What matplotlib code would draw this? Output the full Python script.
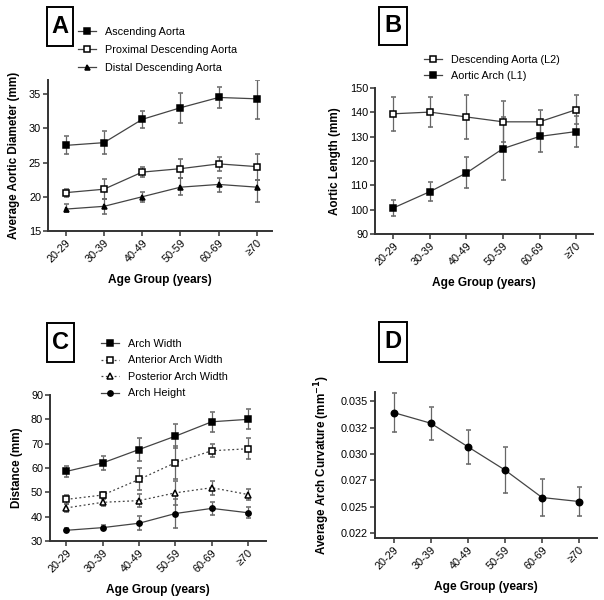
import matplotlib
matplotlib.use("Agg")
import matplotlib.pyplot as plt
from matplotlib.patches import Rectangle

plt.rcParams['font.family'] = ['Liberation Sans', 'DejaVu Sans']

ages = ['20-29', '30-39', '40-49', '50-59', '60-69', '≥70']

# panel A - aortic diameter (mm)
asc = [27.5, 27.9, 31.3, 33.0, 34.5, 34.3]
asc_lo = [1.2, 1.7, 1.2, 2.2, 1.6, 3.0]
asc_hi = [1.3, 1.7, 1.2, 2.2, 1.6, 2.7]
prox = [20.6, 21.1, 23.6, 24.1, 24.8, 24.4]
prox_lo = [0.7, 1.5, 0.7, 1.4, 1.0, 2.0]
prox_hi = [0.6, 1.5, 0.8, 1.4, 1.0, 1.9]
dist = [18.2, 18.6, 20.0, 21.4, 21.8, 21.4]
dist_lo = [0.4, 1.1, 0.8, 1.2, 1.1, 2.2]
dist_hi = [0.7, 1.1, 0.7, 1.4, 1.0, 1.0]

# panel B - aortic length (mm)
desc_len = [139.4, 140.1, 138.1, 136.1, 136.1, 141.1]
desc_err = [7.0, 6.1, 9.0, 8.4, 5.0, 6.0]
arch_len = [100.7, 107.4, 115.1, 125.1, 130.1, 132.1]
arch_err = [3.4, 3.8, 6.4, 12.8, 6.2, 6.2]

# panel C - arch distances (mm)
width = [58.6, 62.1, 67.6, 73.1, 79.0, 80.0]
width_err = [2.3, 3.0, 4.7, 4.9, 4.1, 4.1]
ant = [47.1, 48.9, 55.3, 62.2, 67.1, 67.9]
ant_err = [1.9, 1.4, 4.5, 6.8, 2.6, 4.3]
post = [43.6, 45.9, 46.6, 49.8, 51.9, 49.1]
post_err = [1.7, 1.5, 2.7, 5.0, 2.8, 2.2]
height = [34.4, 35.5, 37.3, 41.3, 43.4, 41.6]
height_err = [0.9, 0.9, 2.9, 5.8, 2.8, 2.2]

# panel D - curvature (1/mm)
curv = [0.03393, 0.03292, 0.03069, 0.02848, 0.02587, 0.02549]
curv_err = [0.00186, 0.00157, 0.00162, 0.00221, 0.00178, 0.00142]
curv_ticks = [0.0225, 0.025, 0.0275, 0.030, 0.0325, 0.035]
curv_labels = ['0.022', '0.025', '0.027', '0.030', '0.032', '0.035']

W, H = 604, 600
fig = plt.figure(figsize=(W / 100, H / 100), dpi=100)


def px_axes(l, t, r, b):
    return fig.add_axes([l / W, 1 - b / H, (r - l) / W, (b - t) / H])


def style(ax, ylabel):
    for s in ['top', 'right']:
        ax.spines[s].set_visible(False)
    for s in ['left', 'bottom']:
        ax.spines[s].set_linewidth(1.4)
        ax.spines[s].set_color('#333333')
    ax.tick_params(direction='out', length=3.5, width=1.1, color='#333333',
                   labelsize=7.8, pad=1.5)
    ax.set_xticks(range(6))
    ax.set_xticklabels(ages, rotation=45, ha='right', rotation_mode='anchor')
    ax.set_xlabel('Age Group (years)', fontsize=8.6, fontweight='bold', labelpad=7)
    ax.set_ylabel(ylabel, fontsize=8.4, fontweight='bold', labelpad=6)


def series(ax, x, y, err, marker, filled=True, ls='-', ms=4):
    c = ax.errorbar(x, y, yerr=err, color='#444444', ecolor='#666666', elinewidth=0.9,
                    capsize=1.8, capthick=0.9, linewidth=0.9, linestyle=ls,
                    marker=marker, markersize=ms, markerfacecolor='black' if filled else 'white',
                    markeredgecolor='black', markeredgewidth=1.1)
    return c[0]


def add_legend(ax, handles, labels, left, top, spacing):
    ax.legend(handles, labels, loc='upper left', bbox_to_anchor=(left / W, 1 - top / H),
              bbox_transform=fig.transFigure, frameon=False, fontsize=7.8,
              handlelength=1.7, handletextpad=0.8, labelspacing=spacing,
              borderpad=0, borderaxespad=0)


def panel_letter(l, t, r, b, letter):
    fig.add_artist(Rectangle((l / W, 1 - b / H), (r - l) / W, (b - t) / H,
                             transform=fig.transFigure, fill=False, ec='black', lw=1.4))
    fig.text((l + r) / 2 / W, 1 - (t + b) / 2 / H, letter, fontsize=17,
             fontweight='bold', ha='center', va='center')


x = list(range(6))

# A
axA = px_axes(48, 80, 272, 231)
hA = [series(axA, x, asc, [asc_lo, asc_hi], 's', True, ms=3.8),
      series(axA, x, prox, [prox_lo, prox_hi], 's', False, ms=4.4),
      series(axA, x, dist, [dist_lo, dist_hi], '^', True, ms=3.6)]
axA.set_xlim(-0.46, 5.39)
axA.set_ylim(15, 37.05)
axA.set_yticks([15, 20, 25, 30, 35])
style(axA, 'Average Aortic Diameter (mm)')
add_legend(axA, hA, ['Ascending Aorta', 'Proximal Descending Aorta', 'Distal Descending Aorta'],
           78, 27, 0.72)
panel_letter(47, 7, 73, 46, 'A')

# B
axB = px_axes(375, 88, 593, 234)
hB = [series(axB, x, desc_len, desc_err, 's', False, ms=4.4),
      series(axB, x, arch_len, arch_err, 's', True, ms=3.8)]
axB.set_xlim(-0.5, 5.46)
axB.set_ylim(90, 150)
axB.set_yticks(range(90, 151, 10))
style(axB, 'Aortic Length (mm)')
add_legend(axB, hB, ['Descending Aorta (L2)', 'Aortic Arch (L1)'], 424, 55, 0.55)
panel_letter(379, 7, 407, 45, 'B')

# C
axC = px_axes(50, 395, 266, 541)
hC = [series(axC, x, width, width_err, 's', True, ms=3.8),
      series(axC, x, ant, ant_err, 's', False, ls=(0, (1.5, 2)), ms=4.4),
      series(axC, x, post, post_err, '^', False, ls=(0, (1.5, 2)), ms=4.4),
      series(axC, x, height, height_err, 'o', True, ms=3.8)]
axC.set_xlim(-0.45, 5.49)
axC.set_ylim(30, 90)
axC.set_yticks(range(30, 91, 10))
style(axC, 'Distance (mm)')
add_legend(axC, hC, ['Arch Width', 'Anterior Arch Width', 'Posterior Arch Width', 'Arch Height'],
           101, 339, 0.6)
panel_letter(47, 323, 74, 362, 'C')

# D
axD = px_axes(375, 392, 597, 538)
series(axD, x, curv, curv_err, 'o', True, ms=4.6)
axD.set_xlim(-0.5, 5.48)
axD.set_ylim(0.02203, 0.03588)
axD.set_yticks(curv_ticks)
axD.set_yticklabels(curv_labels)
style(axD, 'Average Arch Curvature (mm$^{\\mathbf{-1}}$)')
panel_letter(379, 322, 407, 362, 'D')

fig.savefig('out.png', dpi=100)
